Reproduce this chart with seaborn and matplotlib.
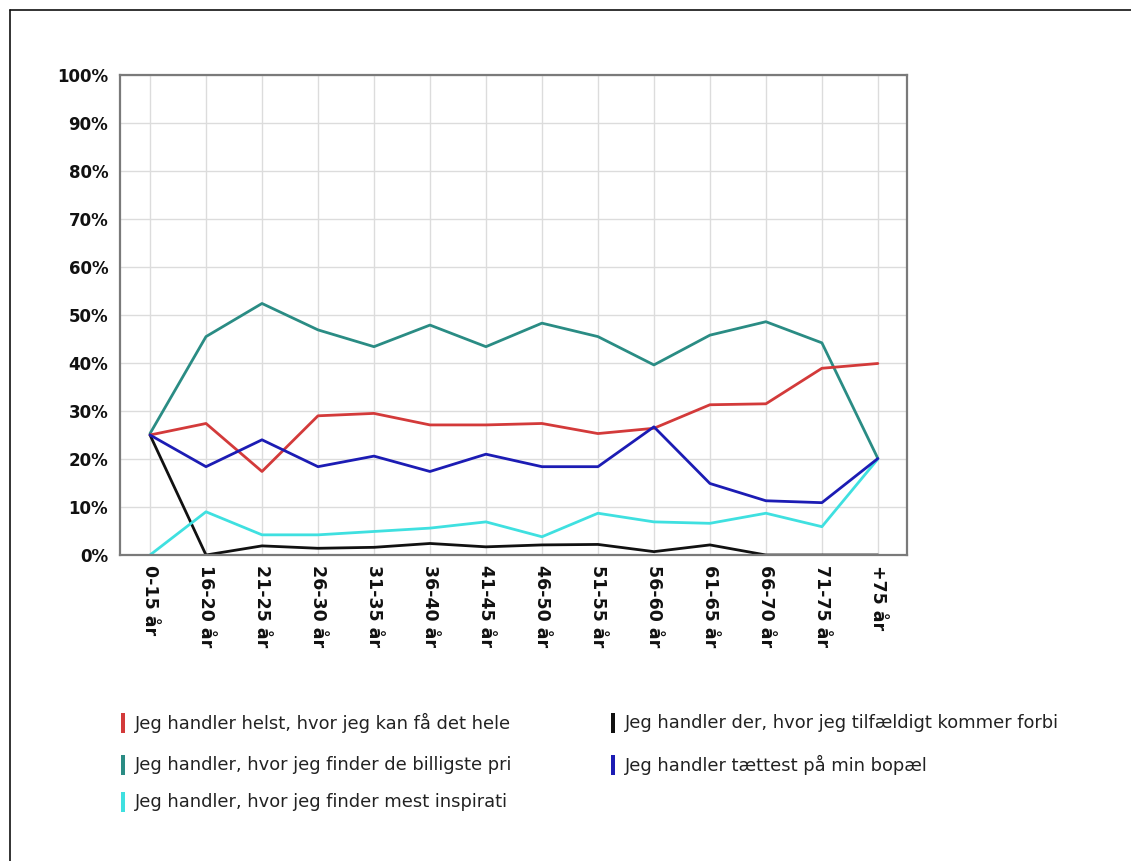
import matplotlib
matplotlib.use("Agg")
import matplotlib.pyplot as plt
from matplotlib.patches import Rectangle
from matplotlib.transforms import Bbox
import seaborn as sns
import pandas as pd

categories = ["0-15 år", "16-20 år", "21-25 år", "26-30 år", "31-35 år", "36-40 år",
              "41-45 år", "46-50 år", "51-55 år", "56-60 år", "61-65 år", "66-70 år",
              "71-75 år", "+75 år"]

helst = [25, 27.4, 17.4, 29.0, 29.5, 27.1, 27.1, 27.4, 25.3, 26.4, 31.3, 31.5, 38.9, 39.9]
billigste = [25.3, 45.5, 52.4, 46.9, 43.4, 47.9, 43.4, 48.3, 45.5, 39.6, 45.8, 48.6, 44.2, 20.1]
inspiration = [0, 9.0, 4.2, 4.2, 4.9, 5.6, 6.9, 3.8, 8.7, 6.9, 6.6, 8.7, 5.9, 20.0]
tilfaeldigt = [25, 0, 1.9, 1.4, 1.6, 2.4, 1.7, 2.1, 2.2, 0.7, 2.1, 0, 0, 0]
taettest = [25, 18.4, 24.0, 18.4, 20.6, 17.4, 21.0, 18.4, 18.4, 26.7, 14.9, 11.3, 10.9, 20.1]

series_names = [
    "Jeg handler helst, hvor jeg kan få det hele",
    "Jeg handler, hvor jeg finder de billigste pri",
    "Jeg handler, hvor jeg finder mest inspirati",
    "Jeg handler der, hvor jeg tilfældigt kommer forbi",
    "Jeg handler tættest på min bopæl",
]
series_values = [helst, billigste, inspiration, tilfaeldigt, taettest]
colors = ["#d33a3a", "#2a8c84", "#3fe0e0", "#111111", "#1c1cb4"]
yticks = [0, 10, 20, 30, 40, 50, 60, 70, 80, 90, 100]

rows = []
for name, vals in zip(series_names, series_values):
    for i, v in enumerate(vals):
        rows.append({"pos": i, "value": v, "series": name})
df = pd.DataFrame(rows)

sns.set_theme(style="white")
plt.rcParams["font.family"] = ["DejaVu Sans"]

W, H = 1131, 861
fig = plt.figure(figsize=(W / 100, H / 100), dpi=100)
fig.patch.set_facecolor("white")

# outer frame (left and top border)
fig.add_artist(plt.Line2D([10 / W, 10 / W], [0, 1 - 10 / H], transform=fig.transFigure,
                          color="#111111", lw=1.2))
fig.add_artist(plt.Line2D([10 / W, 1], [1 - 10 / H, 1 - 10 / H], transform=fig.transFigure,
                          color="#111111", lw=1.2))

left, right, top, bottom = 120, 907, 75, 555
ax = fig.add_axes([left / W, 1 - bottom / H, (right - left) / W, (bottom - top) / H])

order_draw = [series_names[i] for i in [1, 3, 2, 0, 4]]
pal = dict(zip(series_names, colors))
sns.lineplot(data=df, x="pos", y="value", hue="series", hue_order=order_draw,
             palette=pal, linewidth=2.0, legend=False, ax=ax, sort=False, zorder=3)

ax.set_xlim(-0.536, 13.52)
ax.set_ylim(0, 100)
ax.set_xticks(range(len(categories)))
ax.set_xticklabels(categories, rotation=-90, fontsize=12.5, fontweight="bold",
                   va="top", ha="center")
ax.set_yticks(yticks)
ax.set_yticklabels([f"{t}%" for t in yticks], fontsize=12, fontweight="bold")
ax.set_xlabel("")
ax.set_ylabel("")
ax.grid(True, color="#dcdcdc", linewidth=1.0)
ax.set_axisbelow(True)
ax.tick_params(axis="y", length=0, pad=8.5, colors="#111111")
ax.tick_params(axis="x", length=0, pad=7, colors="#111111")
for s in ax.spines.values():
    s.set_visible(True)
    s.set_color("#7a7a7a")
    s.set_linewidth(1.6)
    s.set_zorder(5)

# legend (manual, clipped like the original)
legend_rows = [
    (series_names[0], colors[0], 135, 723, 513),
    (series_names[1], colors[1], 135, 765, 513),
    (series_names[2], colors[2], 135, 802, 513),
    (series_names[3], colors[3], 625, 723, 1064),
    (series_names[4], colors[4], 625, 765, 1064),
]
for name, col, tx, ty, clipx in legend_rows:
    fig.add_artist(Rectangle(((tx - 14) / W, 1 - (ty + 10) / H), 4 / W, 20 / H,
                             transform=fig.transFigure, color=col, lw=0))
    t = fig.text(tx / W, 1 - ty / H, name, fontsize=12.9, va="center", ha="left",
                 color="#222222")
    t.set_clip_box(Bbox([[0, 0], [clipx, H]]))
    t.set_clip_on(True)

fig.savefig("out.png", dpi=100, facecolor="white")
